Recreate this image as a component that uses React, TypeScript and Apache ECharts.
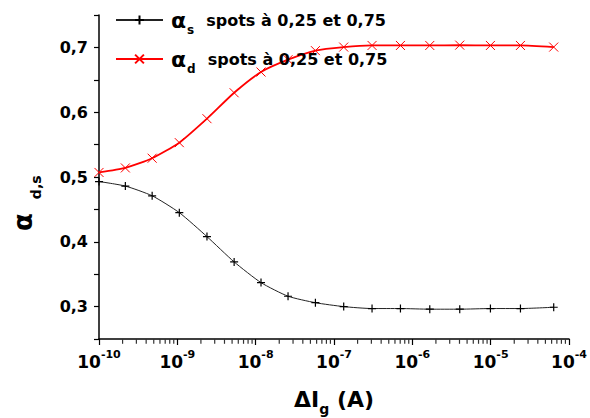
import React, { useEffect, useRef } from 'react';
import * as echarts from 'echarts';

const FONT = '"DejaVu Sans", sans-serif';

// Gate current (A)
const xVals = [1e-10, 2.17e-10, 4.77e-10, 1.06e-9, 2.39e-9, 5.31e-9, 1.17e-8, 2.59e-8, 5.79e-8, 1.33e-7, 3.06e-7, 7.05e-7, 1.67e-6, 4.03e-6, 9.93e-6, 2.4e-5, 6.38e-5];
// alpha_s
const alphaS = [0.493, 0.486, 0.471, 0.445, 0.408, 0.369, 0.337, 0.316, 0.306, 0.300, 0.297, 0.297, 0.296, 0.296, 0.297, 0.297, 0.299];
// alpha_d
const alphaD = [0.507, 0.514, 0.529, 0.553, 0.590, 0.630, 0.662, 0.681, 0.695, 0.7005, 0.703, 0.703, 0.703, 0.7035, 0.703, 0.703, 0.7005];

// minor tick positions on the log x axis
const minorDecades = [-10, -9, -8, -7, -6, -5];
const minorMultipliers = [2, 3, 4, 5, 6, 7, 8, 9];
const yMin = 0.25;

const seriesNames = ['alpha_s', 'alpha_d'];
const legendSubs = ['s', 'd'];
const legendText = 'spots à 0,25 et 0,75';

const PLUS = 'path://M0,5L10,5M5,0L5,10';
const CROSS = 'path://M0,0L10,10M0,10L10,0';

const legendRich = {
  a: { fontFamily: FONT, fontWeight: 'bold', fontSize: 22, color: '#000', lineHeight: 26 },
  s: { fontFamily: FONT, fontWeight: 'bold', fontSize: 12, color: '#000', verticalAlign: 'bottom', lineHeight: 12, padding: [0, 12, -3, 1] },
  t: { fontFamily: FONT, fontWeight: 'bold', fontSize: 16, color: '#000', lineHeight: 26 },
};

function makeLegend(i: number, top: number) {
  return {
    data: [seriesNames[i]],
    left: 115,
    top,
    itemWidth: 47,
    itemHeight: 11,
    padding: 0,
    formatter: () => `{a|α}{s|${legendSubs[i]}}{t|${legendText}}`,
    textStyle: { rich: legendRich, padding: [0, 0, 0, 3] },
  };
}

export default function App() {
  const ref = useRef<HTMLDivElement>(null);
  useEffect(() => {
    document.body.style.margin = '0';
    const chart = echarts.init(ref.current!, null, { renderer: 'svg' });
    const minorData: number[][] = [];
    minorDecades.forEach((d) => minorMultipliers.forEach((m) => minorData.push([m * Math.pow(10, d), yMin])));
    const option: any = {
      animation: false,
      backgroundColor: '#fff',
      grid: { left: 99, right: 21, top: 15, bottom: 79, containLabel: false, outerBoundsMode: 'none' },
      legend: [makeLegend(0, 9), makeLegend(1, 48)],
      xAxis: {
        type: 'log',
        logBase: 10,
        min: 1e-10,
        max: 1e-4,
        splitNumber: 6,
        splitLine: { show: false },
        axisLine: { lineStyle: { color: '#000', width: 1.5 } },
        axisTick: { length: 6, lineStyle: { color: '#000', width: 1.2 } },
        axisLabel: {
          margin: 13,
          formatter: (v: number) => `{b|10}{s|${Math.round(Math.log10(v))}}`,
          rich: {
            b: { fontFamily: FONT, fontWeight: 'bold', fontSize: 17, color: '#000', lineHeight: 20 },
            s: { fontFamily: FONT, fontWeight: 'bold', fontSize: 11, color: '#000', verticalAlign: 'top', lineHeight: 11, padding: [-3, 0, 0, 0] },
          },
        },
        name: '{d|Δ}{i|I}{g|g}{i| (A)}',
        nameLocation: 'middle',
        nameGap: 47,
        nameTextStyle: {
          rich: {
            d: { fontFamily: FONT, fontWeight: 'bold', fontSize: 22, color: '#000', lineHeight: 26 },
            i: { fontFamily: FONT, fontWeight: 'bold', fontSize: 22, color: '#000', lineHeight: 26 },
            g: { fontFamily: FONT, fontWeight: 'bold', fontSize: 14, color: '#000', verticalAlign: 'bottom', lineHeight: 14, padding: [0, 0, -4, 0] },
          },
        },
      },
      yAxis: {
        type: 'value',
        min: 0.25,
        max: 0.75,
        interval: 0.05,
        splitLine: { show: false },
        axisLine: { show: true, lineStyle: { color: '#000', width: 1.5 } },
        axisTick: { show: true, length: 5, lineStyle: { color: '#000', width: 1.2 } },
        axisLabel: {
          margin: 11,
          fontFamily: FONT,
          fontWeight: 'bold',
          fontSize: 16,
          color: '#000',
          formatter: (v: number) => (Math.round(v * 100) % 10 === 0 ? v.toFixed(1).replace('.', ',') : ''),
        },
      },
      graphic: [
        {
          type: 'text',
          x: 23,
          y: 231,
          rotation: Math.PI / 2,
          style: {
            text: '{a|α}{s|d,s}',
            align: 'left',
            verticalAlign: 'middle',
            rich: {
              a: { fontFamily: FONT, fontWeight: 'bold', fontSize: 26, fill: '#000', lineHeight: 26 },
              s: { fontFamily: FONT, fontWeight: 'bold', fontSize: 14, fill: '#000', verticalAlign: 'bottom', lineHeight: 14, padding: [0, 0, -7, 14] },
            },
          },
        },
      ],
      series: [
        {
          name: seriesNames[0],
          type: 'line',
          data: xVals.map((x, i) => [x, alphaS[i]]),
          symbol: PLUS,
          symbolSize: 8,
          smooth: 0.2,
          lineStyle: { color: '#222', width: 1 },
          itemStyle: { color: '#000', borderColor: '#000', borderWidth: 1.2 },
        },
        {
          name: seriesNames[1],
          type: 'line',
          data: xVals.map((x, i) => [x, alphaD[i]]),
          symbol: CROSS,
          symbolSize: 9,
          smooth: 0.2,
          lineStyle: { color: '#ff0000', width: 1.8 },
          itemStyle: { color: '#ff0000', borderColor: '#ff0000', borderWidth: 1 },
        },
        {
          name: 'minorTicks',
          type: 'scatter',
          data: minorData,
          symbol: 'rect',
          symbolSize: [1.2, 4],
          symbolOffset: [0, 2.8],
          clip: false,
          silent: true,
          itemStyle: { color: '#000' },
          z: 1,
        },
      ],
    };
    chart.setOption(option);
    return () => chart.dispose();
  }, []);
  return <div ref={ref} style={{ width: 590, height: 418 }} />;
}
